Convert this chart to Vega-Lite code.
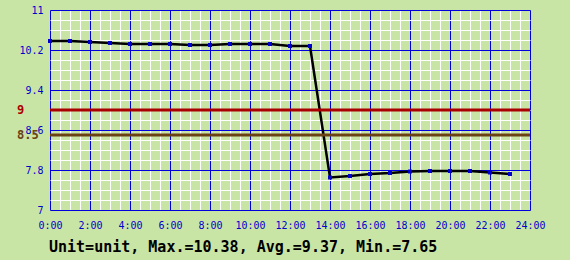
{
  "$schema": "https://vega.github.io/schema/vega-lite/v6.json",
  "width": 480,
  "height": 200,
  "autosize": {"type": "none"},
  "padding": {"left": 50, "top": 10, "right": 40, "bottom": 50},
  "background": "#c9e5a6",
  "config": {"view": {"stroke": null}},
  "title": {
    "text": "Unit=unit, Max.=10.38, Avg.=9.37, Min.=7.65",
    "orient": "bottom",
    "anchor": "start",
    "frame": "group",
    "font": "DejaVu Sans Mono",
    "fontSize": 15,
    "fontWeight": "bold",
    "color": "#000000",
    "offset": 10,
    "dx": -1
  },
  "datasets": {
    "series": [
      {"hour": 0, "value": 10.38},
      {"hour": 1, "value": 10.38},
      {"hour": 2, "value": 10.36},
      {"hour": 3, "value": 10.34},
      {"hour": 4, "value": 10.32},
      {"hour": 5, "value": 10.32},
      {"hour": 6, "value": 10.32},
      {"hour": 7, "value": 10.30},
      {"hour": 8, "value": 10.30},
      {"hour": 9, "value": 10.32},
      {"hour": 10, "value": 10.32},
      {"hour": 11, "value": 10.32},
      {"hour": 12, "value": 10.28},
      {"hour": 13, "value": 10.28},
      {"hour": 14, "value": 7.65},
      {"hour": 15, "value": 7.68},
      {"hour": 16, "value": 7.72},
      {"hour": 17, "value": 7.74},
      {"hour": 18, "value": 7.77},
      {"hour": 19, "value": 7.78},
      {"hour": 20, "value": 7.78},
      {"hour": 21, "value": 7.78},
      {"hour": 22, "value": 7.75},
      {"hour": 23, "value": 7.72}
    ],
    "refs": [
      {"v": 9, "name": "9"},
      {"v": 8.5, "name": "8.5"}
    ]
  },
  "layer": [
    {
      "data": {"name": "series"},
      "mark": {"type": "line", "color": "#000000", "strokeWidth": 2.5},
      "encoding": {
        "x": {
          "field": "hour",
          "type": "quantitative",
          "scale": {"domain": [0, 24], "nice": false, "zero": false},
          "axis": {
            "title": null,
            "values": [0,0.5,1,1.5,2,2.5,3,3.5,4,4.5,5,5.5,6,6.5,7,7.5,8,8.5,9,9.5,10,10.5,11,11.5,12,12.5,13,13.5,14,14.5,15,15.5,16,16.5,17,17.5,18,18.5,19,19.5,20,20.5,21,21.5,22,22.5,23,23.5,24],
            "tickCount": 200,
            "grid": true,
            "gridColor": {"condition": {"test": "datum.value % 2 === 0", "value": "#0000dd"}, "value": "#ffffff"},
            "gridWidth": 1,
            "gridOpacity": 1,
            "domain": false,
            "ticks": false,
            "labelOverlap": false,
            "labelFlush": false,
            "labelExpr": "datum.value % 2 === 0 ? datum.value + ':00' : ''",
            "labelFont": "DejaVu Sans Mono",
            "labelFontSize": 10,
            "labelColor": "#0000cc",
            "labelPadding": 10
          }
        },
        "y": {
          "field": "value",
          "type": "quantitative",
          "scale": {"domain": [7, 11], "nice": false, "zero": false},
          "axis": {
            "title": null,
            "values": [7,7.2,7.4,7.6,7.8,8,8.2,8.4,8.6,8.8,9,9.2,9.4,9.6,9.8,10,10.2,10.4,10.6,10.8,11],
            "tickCount": 200,
            "grid": true,
            "gridColor": {"condition": {"test": "abs(round((datum.value - 7) * 10)) % 8 === 0", "value": "#0000dd"}, "value": "#ffffff"},
            "gridWidth": 1,
            "gridOpacity": 1,
            "domain": false,
            "ticks": false,
            "labelOverlap": false,
            "labelFlush": false,
            "labelExpr": "abs(round((datum.value - 7) * 10)) % 8 === 0 ? '' + datum.value : ''",
            "labelFont": "DejaVu Sans Mono",
            "labelFontSize": 10,
            "labelColor": "#0000cc",
            "labelPadding": 7
          }
        }
      }
    },
    {
      "data": {"name": "series"},
      "mark": {"type": "point", "shape": "square", "filled": true, "size": 16, "color": "#0000cc", "opacity": 1},
      "encoding": {
        "x": {"field": "hour", "type": "quantitative"},
        "y": {"field": "value", "type": "quantitative"}
      }
    },
    {
      "data": {"name": "refs"},
      "mark": {"type": "rule", "strokeWidth": 3},
      "encoding": {
        "y": {"field": "v", "type": "quantitative"},
        "color": {"field": "name", "type": "nominal", "scale": {"domain": ["9", "8.5"], "range": ["#aa0000", "#6b4214"]}, "legend": null}
      }
    },
    {
      "data": {"name": "refs"},
      "mark": {"type": "text", "align": "left", "baseline": "middle", "dx": -33, "font": "DejaVu Sans Mono", "fontSize": 12, "fontWeight": "bold"},
      "encoding": {
        "x": {"datum": 0, "type": "quantitative"},
        "y": {"field": "v", "type": "quantitative"},
        "text": {"field": "name"},
        "color": {"field": "name", "type": "nominal", "scale": {"domain": ["9", "8.5"], "range": ["#aa0000", "#6b4214"]}, "legend": null}
      }
    }
  ]
}
